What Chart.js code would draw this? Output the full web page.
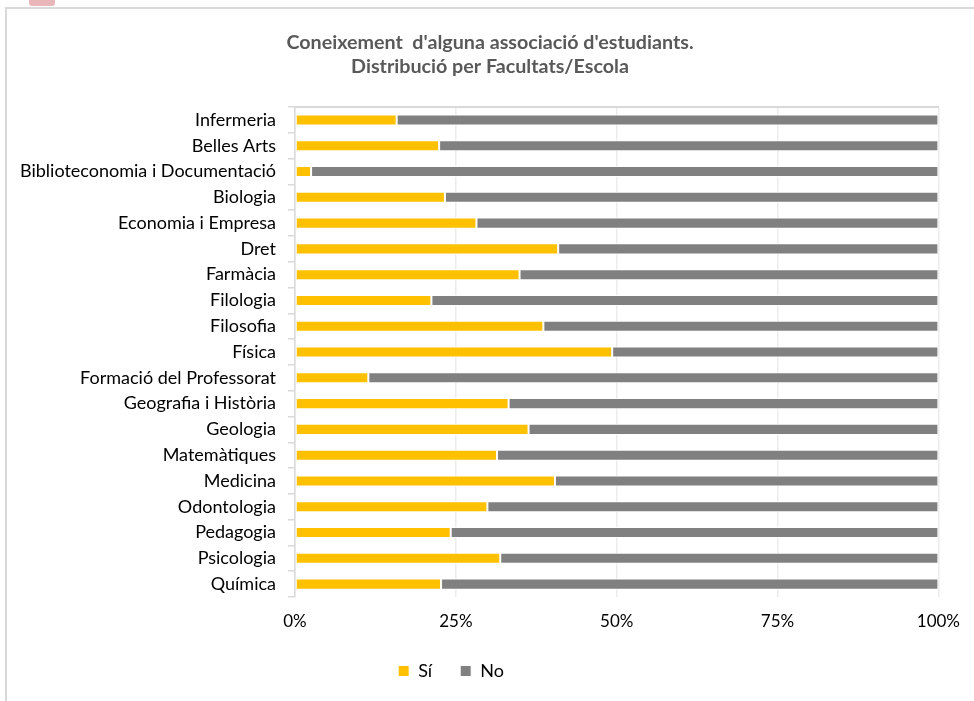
<!DOCTYPE html>
<html>
<head>
<meta charset="utf-8">
<script src="https://cdn.jsdelivr.net/npm/chart.js@4.4.1/dist/chart.umd.min.js"></script>
<style>
  html, body { margin: 0; padding: 0; background: #fff; }
  body { width: 974px; height: 701px; position: relative; overflow: hidden; }
  .marca { position: absolute; left: 29px; top: -4px; width: 26px; height: 10px; background: #e8b6b9; border-radius: 3px; }
  .marc { position: absolute; left: 5px; top: 7px; width: 1000px; height: 720px; border-left: 2px solid #d9d9d9; border-top: 2px solid #d9d9d9; }
  #grafic { position: absolute; left: 0; top: 0; }
</style>
</head>
<body>
<div class="marca"></div>
<div class="marc"></div>
<canvas id="grafic" width="974" height="701"></canvas>
<script>
// Coneixement d'alguna associació d'estudiants per facultat

const facultats = [
    'Infermeria', 'Belles Arts', 'Biblioteconomia i Documentació', 'Biologia',
    'Economia i Empresa', 'Dret', 'Farmàcia', 'Filologia', 'Filosofia', 'Física',
    'Formació del Professorat', 'Geografia i Història', 'Geologia', 'Matemàtiques',
    'Medicina', 'Odontologia', 'Pedagogia', 'Psicologia', 'Química'
];

const valorsSi = [15.8, 22.4, 2.5, 23.3, 28.2, 40.9, 34.9, 21.2, 38.6, 49.3,
                  11.4, 33.2, 36.3, 31.4, 40.4, 29.9, 24.2, 31.9, 22.7];

const valorsNo = [84.2, 77.6, 97.5, 76.7, 71.8, 59.1, 65.1, 78.8, 61.4, 50.7,
                  88.6, 66.8, 63.7, 68.6, 59.6, 70.1, 75.8, 68.1, 77.3];

const titol = ["Coneixement  d'alguna associació d'estudiants.", 'Distribució per Facultats/Escola'];
const marquesX = [0, 25, 50, 75, 100];

const FONT = "Lato, 'Open Sans', sans-serif";
const GRIS_LINIA = '#d9d9d9';
const DESPL_LLEGENDA = 19;
const DESPL_TITOL = 20;

new Chart(document.getElementById('grafic').getContext('2d'), {
    type: 'bar',
    data: {
        labels: facultats,
        datasets: [
            {
                label: 'Sí',
                data: valorsSi,
                backgroundColor: '#ffc000',
                borderColor: '#ffffff',
                borderWidth: 1,
                borderSkipped: false
            },
            {
                label: 'No',
                data: valorsNo,
                backgroundColor: '#808080',
                borderColor: '#ffffff',
                borderWidth: 1,
                borderSkipped: false
            }
        ]
    },
    options: {
        indexAxis: 'y',
        responsive: false,
        animation: false,
        categoryPercentage: 0.43,
        barPercentage: 1,
        layout: { padding: { left: 0, right: 34, top: 0, bottom: 11 } },
        plugins: {
            title: {
                display: true,
                text: titol,
                color: '#595959',
                font: { family: FONT, size: 19.7, weight: 'bold', lineHeight: 1.22 },
                padding: { top: 31, bottom: 28 }
            },
            legend: {
                position: 'bottom',
                labels: {
                    color: '#000',
                    font: { family: FONT, size: 18 },
                    boxWidth: 11,
                    boxHeight: 11,
                    padding: 28
                }
            },
            tooltip: { enabled: false }
        },
        scales: {
            x: {
                stacked: true,
                min: 0,
                max: 100,
                afterBuildTicks: function (scale) {
                    scale.ticks = marquesX.map(v => ({ value: v }));
                },
                afterFit: function (scale) { scale.height = 37; },
                ticks: {
                    color: '#000',
                    font: { family: FONT, size: 17 },
                    padding: 14,
                    callback: v => v + '%'
                },
                grid: { color: '#ececec', lineWidth: 1.5, drawTicks: false },
                border: { display: false }
            },
            x2: {
                position: 'top',
                min: 0,
                max: 100,
                afterFit: function (scale) { scale.height = 0; },
                ticks: { display: false },
                grid: { display: false },
                border: { display: true, color: GRIS_LINIA, width: 2 }
            },
            y: {
                stacked: true,
                afterFit: function (scale) { scale.width = 295; },
                ticks: {
                    color: '#000',
                    font: { family: FONT, size: 18 },
                    padding: 12
                },
                grid: {
                    offset: true,
                    drawOnChartArea: false,
                    drawTicks: true,
                    tickLength: 7,
                    color: GRIS_LINIA,
                    lineWidth: 1.5
                },
                border: { display: true, color: GRIS_LINIA, width: 1.5 }
            }
        }
    },
    plugins: [{
        id: 'desplacaBlocs',
        afterLayout(chart) {
            chart.legend.left -= DESPL_LLEGENDA;
            chart.legend.right -= DESPL_LLEGENDA;
            chart.titleBlock.left += DESPL_TITOL;
            chart.titleBlock.right += DESPL_TITOL;
        }
    }]
});
</script>
</body>
</html>
